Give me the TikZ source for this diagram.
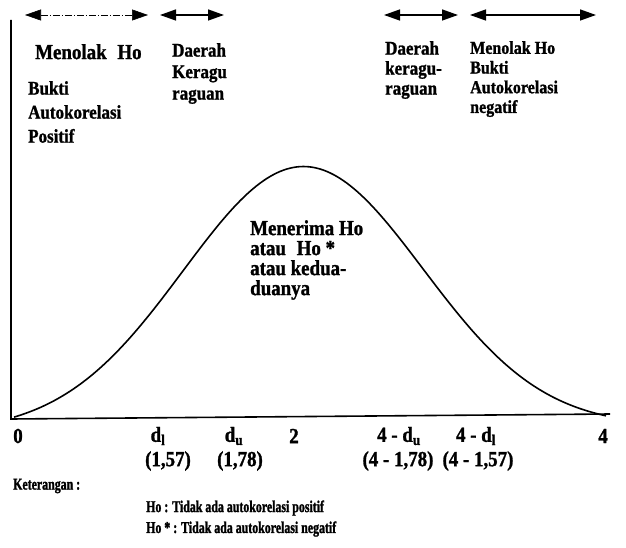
\documentclass[tikz,border=0pt]{standalone}
\usepackage{fontspec}
\setmainfont{Liberation Serif}[FakeStretch=0.88, BoldFeatures={FakeBold=1.2}]
\newfontfamily\notefont{Liberation Serif}[FakeStretch=0.72, BoldFeatures={FakeBold=1.4}]
\usetikzlibrary{arrows.meta, positioning}

\begin{document}
\begin{tikzpicture}[
        x=1pt, y=-1pt,
        lbl/.style={font=\bfseries\fontsize{19.3}{20}\selectfont, inner sep=0pt, align=left, anchor=north west},
        lblbig/.style={lbl, font=\bfseries\fontsize{21.5}{20}\selectfont},
        tick/.style={font=\bfseries\fontsize{21.5}{23}\selectfont, inner sep=0pt},
        note/.style={font=\notefont\bfseries\fontsize{16.5}{18}\selectfont, inner sep=0pt, anchor=west},
        span/.style={line width=1.4pt, {Triangle[length=16pt,width=11pt]}-{Triangle[length=16pt,width=11pt]}},
        axis/.style={line width=1.6pt},
        node distance=0pt
    ]
        \useasboundingbox (0,0) rectangle (626,548);

        % axes and curve
        \coordinate (top) at (11,20);
        \coordinate (orig) at (11,419);
        \coordinate (end) at (610,414);
        \draw[axis] (top) -- (orig) -- (end);
        \draw[axis, domain=14:606, samples=90, smooth] plot
            (\x, {419 - 5*(\x-11)/599 - 250*(exp(-((\x-303)/120)^2/2) - 0.048)/0.952});

        % ranges on top
        \coordinate (r1a) at (25,15);  \coordinate (r1b) at (148,15);
        \coordinate (r2a) at (160,15); \coordinate (r2b) at (224,15);
        \coordinate (r3a) at (384,15); \coordinate (r3b) at (458,15);
        \coordinate (r4a) at (470,15); \coordinate (r4b) at (596,15);
        \draw[span, line width=0.6pt, dash pattern=on 7pt off 2pt on 1pt off 2pt] (r1a) -- (r1b);
        \draw[span] (r2a) -- (r2b);
        \draw[span] (r3a) -- (r3b);
        \draw[span] (r4a) -- (r4b);

        % region texts
        \node[lblbig] (rejpos) at (35,44) {Menolak\enspace Ho};
        \node[lbl, font=\bfseries\fontsize{19.3}{24}\selectfont] (bukpos) at (28,81) {Bukti\\Autokorelasi\\Positif};
        \node[lbl, font=\bfseries\fontsize{19.3}{21.5}\selectfont] (doubt1) at (172,43) {Daerah\\Keragu\\raguan};
        \node[lbl] (doubt2) at (385,41) {Daerah\\keragu-\\raguan};
        \node[lbl, font=\bfseries\fontsize{18.2}{19.7}\selectfont] (rejneg) at (470,41) {Menolak Ho\\Bukti\\Autokorelasi\\negatif};
        \node[lblbig] (accept) at (250,220) {Menerima Ho\\atau\enspace Ho *\\atau kedua-\\duanya};

        % axis values
        \node[tick] (t0) at (18,436) {0};
        \node[tick] (tdl) at (158,436) {d\textsubscript{l}};
        \node[tick] (tdu) at (234,436) {d\textsubscript{u}};
        \node[tick] (t2) at (294,436) {2};
        \node[tick] (tdu4) at (399,436) {4 - d\textsubscript{u}};
        \node[tick] (tdl4) at (476,436) {4 - d\textsubscript{l}};
        \node[tick] (t4) at (603,436) {4};
        \node[tick] (vdl) at (168,461) {(1,57)};
        \node[tick] (vdu) at (240,461) {(1,78)};
        \node[tick] (vdu4) at (398,461) {(4 - 1,78)};
        \node[tick] (vdl4) at (478,461) {(4 - 1,57)};

        % legend
        \node[note] (keter) at (13,486) {Keterangan :};
        \node[note] (ho1) at (146,508) {Ho : Tidak ada autokorelasi positif};
        \node[note] (ho2) at (146,529) {Ho * : Tidak ada autokorelasi negatif};
    \end{tikzpicture}
\end{document}
